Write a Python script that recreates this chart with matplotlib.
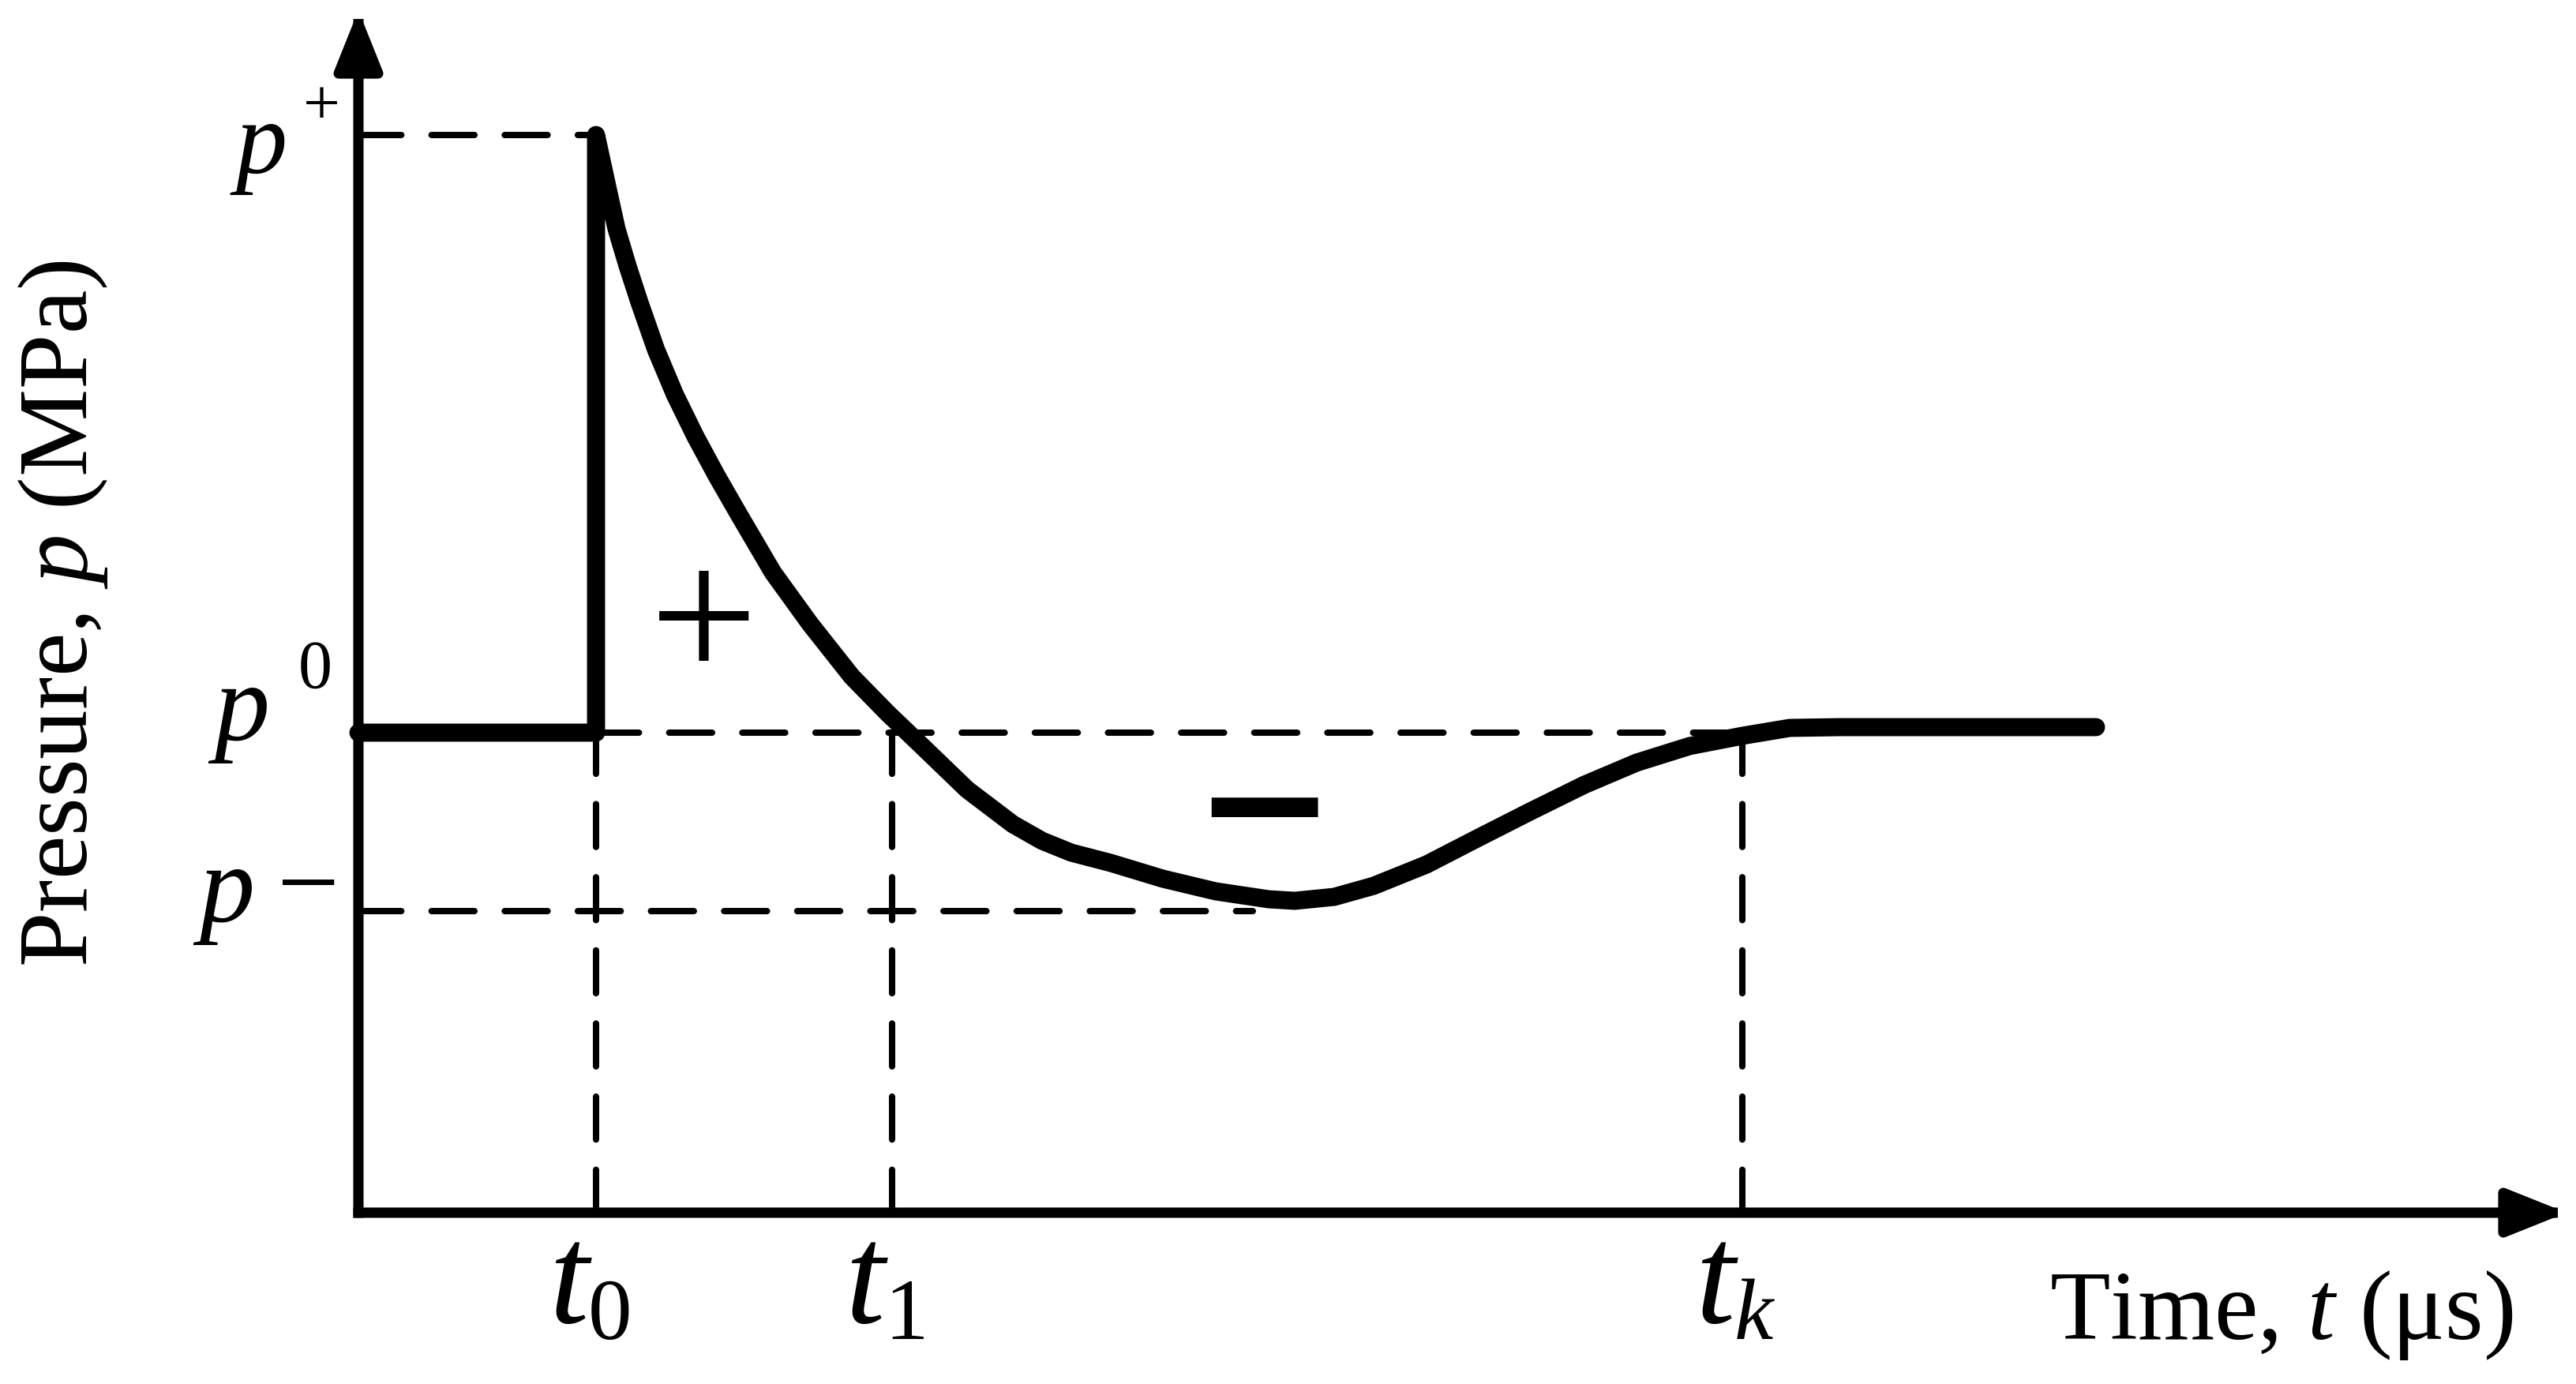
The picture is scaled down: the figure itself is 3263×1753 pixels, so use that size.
import matplotlib
matplotlib.use("Agg")
import matplotlib.pyplot as plt
from matplotlib.transforms import offset_copy

plt.rcParams['font.family'] = ['Liberation Serif', 'DejaVu Serif']
plt.rcParams['mathtext.fontset'] = 'custom'
plt.rcParams['mathtext.rm'] = 'Liberation Serif'
plt.rcParams['mathtext.it'] = 'Liberation Serif:italic'

# characteristic times and pressure levels (arbitrary units)
t0, t1, tk = 3.01, 6.76, 17.53
p_plus, p_zero, p_minus = 13.65, 6.08, 3.82
p_minus_end = 11.33
tk_top = 6.01
t_axis_end, p_axis_end = 27.97, 15.23

# pressure history after the jump at t0
t_curve = [3.01, 3.16, 3.27, 3.41, 3.56, 3.77, 4.01, 4.27, 4.54, 4.81, 5.25,
           5.72, 6.25, 6.70, 7.16, 7.71, 8.29, 8.66, 9.03, 9.53, 10.19, 10.86,
           11.53, 11.86, 12.36, 12.86, 13.53, 14.19, 14.86, 15.53, 16.19, 16.86,
           17.53, 18.13, 18.76, 22.01]
p_curve = [13.65, 12.96, 12.46, 11.99, 11.53, 10.93, 10.36, 9.83, 9.33, 8.86, 8.11,
           7.46, 6.79, 6.33, 5.89, 5.36, 4.92, 4.71, 4.56, 4.43, 4.23, 4.07,
           3.97, 3.95, 4.00, 4.14, 4.41, 4.75, 5.09, 5.42, 5.70, 5.91,
           6.04, 6.14, 6.15, 6.15]

fig = plt.figure(figsize=(32.63, 17.53), dpi=100)
ax = fig.add_axes([0, 0, 1, 1])
ax.set_xlim(-4.54, 28.09)
ax.set_ylim(-2.17, 15.36)
ax.axis('off')

# axes with arrow heads
arrow = dict(arrowstyle='-|>,head_length=0.9,head_width=0.36', mutation_scale=50,
             lw=9.4, color='k', shrinkA=0, shrinkB=0, capstyle='projecting')
ax.annotate('', xy=(t_axis_end, 0), xytext=(0, 0), arrowprops=arrow)
ax.annotate('', xy=(0, p_axis_end), xytext=(0, 0), arrowprops=arrow)

# dashed guide lines
dash = dict(color='k', lw=5.8, ls=(0, (6.75, 4.75)), dash_capstyle='round')
ax.plot([0, t0], [p_plus, p_plus], **dash)
ax.plot([t0, tk], [p_zero, p_zero], **dash)
ax.plot([0, p_minus_end], [p_minus, p_minus], **dash)
ax.plot([t0, t0], [0, p_zero], **dash)
ax.plot([t1, t1], [0, p_zero], **dash)
ax.plot([tk, tk], [0, tk_top], **dash)

# main pressure curve
ax.plot([0, t0] + t_curve, [p_zero, p_zero] + p_curve, color='k', lw=16.5,
        solid_capstyle='round', solid_joinstyle='round')


def at(x, y, dx, dy):
    return dict(x=x, y=y, transform=offset_copy(ax.transData, fig=fig, x=dx, y=dy, units='dots'))


# level labels on the pressure axis
ax.text(s='p', style='italic', fontsize=94, va='baseline', **at(0, p_plus, -155, -48))
ax.text(s='+', fontsize=60, va='baseline', **at(0, p_plus, -70, 14))
ax.text(s='p', style='italic', fontsize=101, va='baseline', **at(0, p_zero, -183, -9))
ax.text(s='0', fontsize=62, va='baseline', **at(0, p_zero, -76, 57))
ax.text(s='p', style='italic', fontsize=101, va='baseline', **at(0, p_minus, -202, -13))
ax.text(s='\u2212', fontsize=101, va='baseline', **at(0, p_minus, -104, -10))

# time labels
for tv, sub, sub_style in [(t0, '0', 'normal'), (t1, '1', 'normal'), (tk, 'k', 'italic')]:
    ax.text(s='t', style='italic', fontsize=130, va='baseline', **at(tv, 0, -60, -139))
    ax.text(s=sub, style=sub_style, fontsize=80, va='baseline', **at(tv, 0, -10, -160))

# sign of the phases
ax.text(s='+', fontsize=175, ha='center', va='baseline', **at(t0, p_zero, 136, 67))
ax.text(s='\u2212', fontsize=155, fontweight='bold', family='DejaVu Sans',
        ha='center', va='baseline', **at(t1, p_zero, 471, -162))

fig.text(3184 / 3263, 1 - 1696 / 1753, 'Time, $t$ (\u03bcs)', fontsize=90,
         ha='right', va='baseline')
fig.text(80 / 3263, 1 - 777 / 1753, 'Pressure, $p$ (MPa)', fontsize=90,
         rotation=90, ha='center', va='center')

fig.savefig('out.png', dpi=100)
